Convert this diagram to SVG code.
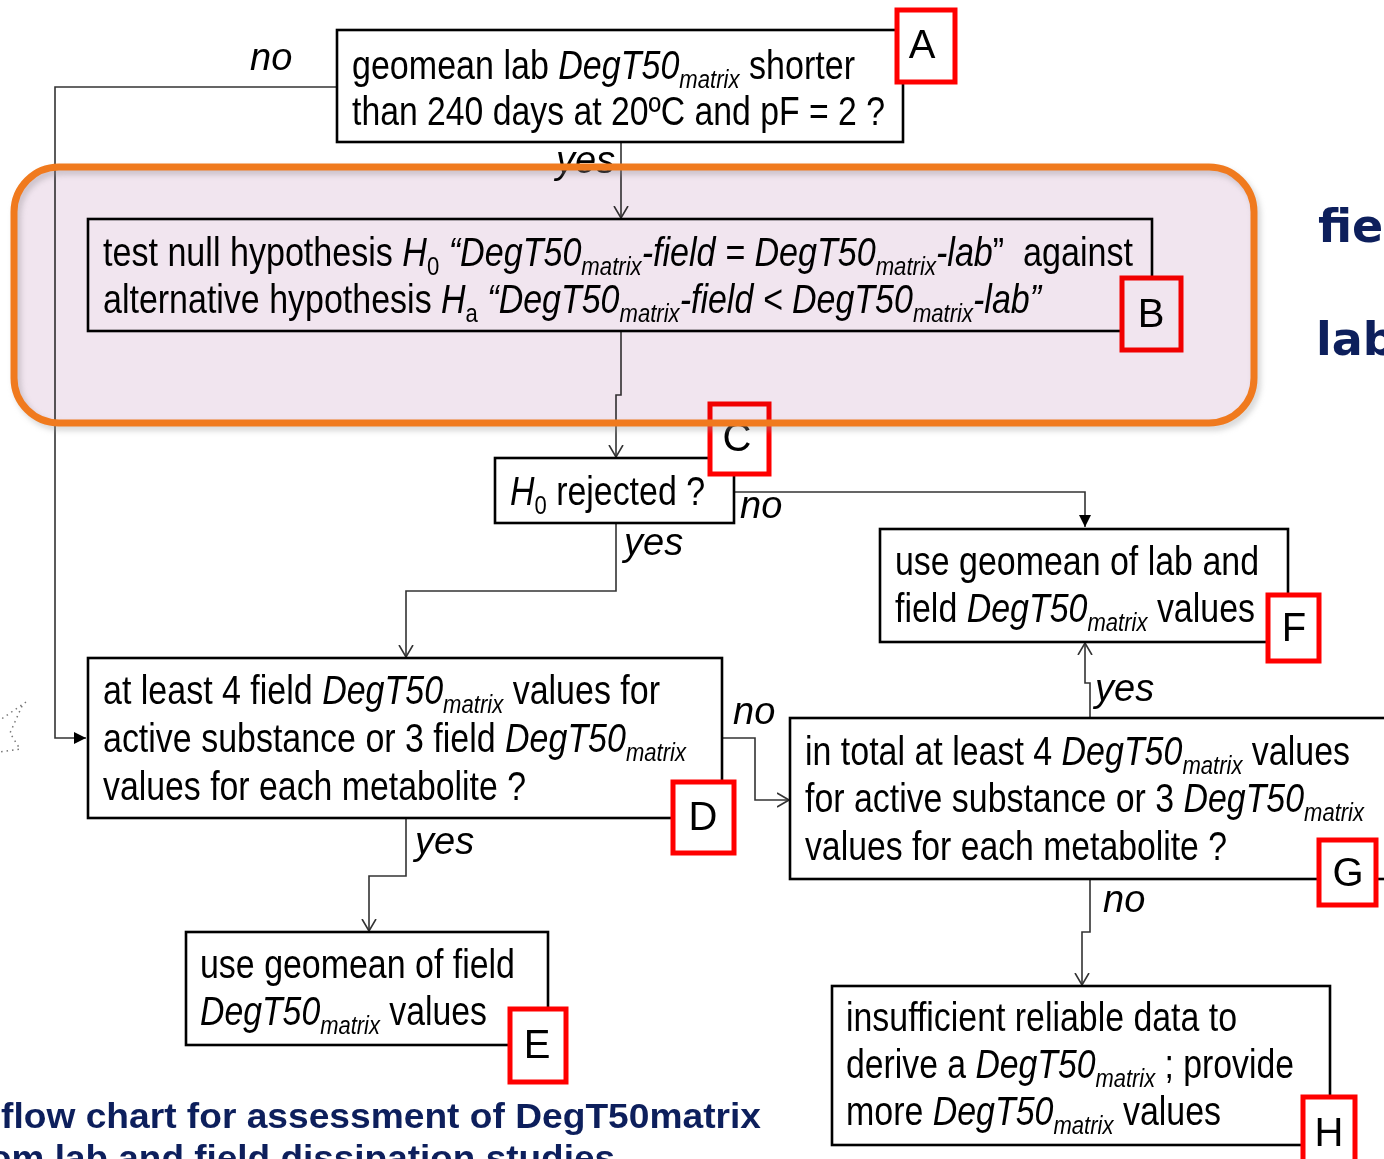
<svg xmlns="http://www.w3.org/2000/svg" width="1384" height="1159" viewBox="0 0 1384 1159">
<style>
.bg{fill:#fff}
.box{fill:#fff;stroke:#000;stroke-width:2.6}
.lbl{fill:#fff;stroke:#f00;stroke-width:5}
.t{font-family:'Liberation Sans Narrow','Liberation Sans',Arial,sans-serif;font-size:40px;fill:#000}
.i{font-style:italic}
.s{font-size:26px}
.lt{font-family:'Liberation Sans Narrow','Liberation Sans',Arial,sans-serif;font-size:40px;fill:#000;text-anchor:middle}
.cl{font-family:'Liberation Sans Narrow','Liberation Sans',Arial,sans-serif;font-size:38px;font-style:italic;fill:#000}
.conn{fill:none;stroke:#333;stroke-width:1.6}
.navy{font-family:'DejaVu Sans',Verdana,sans-serif;font-weight:bold;font-size:46px;fill:#0d1f5c}
.cap{font-family:'Liberation Sans',Arial,sans-serif;font-weight:bold;font-size:35px;fill:#0d1f5c}
</style>
<defs>
<marker id="open" viewBox="0 0 12 16" refX="12" refY="8" markerWidth="12" markerHeight="16" markerUnits="userSpaceOnUse" orient="auto">
<path d="M0,1 L12,8 L0,15" fill="none" stroke="#333" stroke-width="1.6"/>
</marker>
<marker id="fill" viewBox="0 0 12 12" refX="12" refY="6" markerWidth="12" markerHeight="12" markerUnits="userSpaceOnUse" orient="auto">
<path d="M0,0 L12,6 L0,12 Z" fill="#000"/>
</marker>
<filter id="sh" x="-5%" y="-10%" width="110%" height="125%">
<feGaussianBlur stdDeviation="3"/>
</filter>
</defs>
<rect class="bg" x="0" y="0" width="1384" height="1159"/>

<g id="connectors">
<path class="conn" d="M337,87 H55 V738 H86" marker-end="url(#fill)"/>
<path class="conn" d="M621,142 V218" marker-end="url(#open)"/>
<path class="conn" d="M621,331 V395 H616 V457" marker-end="url(#open)"/>
<path class="conn" d="M734,492 H1085 V527" marker-end="url(#fill)"/>
<path class="conn" d="M616,523 V591 H406 V657" marker-end="url(#open)"/>
<path class="conn" d="M722,738 H755 V800 H789" marker-end="url(#open)"/>
<path class="conn" d="M406,818 V876 H369 V931" marker-end="url(#open)"/>
<path class="conn" d="M1090,718 V683 H1085 V643" marker-end="url(#open)"/>
<path class="conn" d="M1090,879 V932 H1082 V985" marker-end="url(#open)"/>
<text class="cl" x="250" y="70">no</text>
<text class="cl" x="556" y="173">yes</text>
<text class="cl" x="740" y="518">no</text>
<text class="cl" x="624" y="555">yes</text>
<text class="cl" x="733" y="724">no</text>
<text class="cl" x="415" y="854">yes</text>
<text class="cl" x="1095" y="701">yes</text>
<text class="cl" x="1103" y="912">no</text>
</g>

<g id="nodeA">
<rect class="box" x="337" y="30" width="566" height="112"/>
<text class="t" x="352" y="79" textLength="503" lengthAdjust="spacingAndGlyphs">geomean lab <tspan class="i">DegT50</tspan><tspan class="i s" dy="9">matrix</tspan><tspan dy="-9"> shorter</tspan></text>
<text class="t" x="352" y="125" textLength="533" lengthAdjust="spacingAndGlyphs">than 240 days at 20ºC and pF = 2 ?</text>
<rect class="lbl" x="897" y="10" width="58" height="72"/>
<text class="lt" x="922" y="58">A</text>
</g>

<g id="nodeB">
<rect class="box" x="88" y="219" width="1064" height="112" style="fill:none"/>
<text class="t" x="103" y="266" textLength="1030" lengthAdjust="spacingAndGlyphs">test null hypothesis <tspan class="i">H</tspan><tspan class="s" dy="9">0</tspan><tspan class="i" dy="-9"> “DegT50</tspan><tspan class="i s" dy="9">matrix</tspan><tspan class="i" dy="-9">-field = DegT50</tspan><tspan class="i s" dy="9">matrix</tspan><tspan class="i" dy="-9">-lab</tspan>”&#160; against</text>
<text class="t" x="103" y="313" textLength="938" lengthAdjust="spacingAndGlyphs">alternative hypothesis <tspan class="i">H</tspan><tspan class="s" dy="9">a</tspan><tspan class="i" dy="-9"> “DegT50</tspan><tspan class="i s" dy="9">matrix</tspan><tspan class="i" dy="-9">-field &lt; DegT50</tspan><tspan class="i s" dy="9">matrix</tspan><tspan class="i" dy="-9">-lab”</tspan></text>
<rect class="lbl" x="1122" y="278" width="59" height="72"/>
<text class="lt" x="1151" y="327">B</text>
</g>

<g id="nodeC">
<rect class="box" x="495" y="458" width="239" height="65"/>
<text class="t" x="510" y="505" textLength="195" lengthAdjust="spacingAndGlyphs"><tspan class="i">H</tspan><tspan class="s" dy="9">0</tspan><tspan dy="-9"> rejected ?</tspan></text>
<rect class="lbl" x="710" y="404" width="59" height="70"/>
<text class="lt" x="737" y="451">C</text>
</g>

<g id="nodeD">
<rect class="box" x="88" y="658" width="634" height="160"/>
<text class="t" x="103" y="704" textLength="557" lengthAdjust="spacingAndGlyphs">at least 4 field <tspan class="i">DegT50</tspan><tspan class="i s" dy="9">matrix</tspan><tspan dy="-9"> values for</tspan></text>
<text class="t" x="103" y="752" textLength="583" lengthAdjust="spacingAndGlyphs">active substance or 3 field <tspan class="i">DegT50</tspan><tspan class="i s" dy="9">matrix</tspan></text>
<text class="t" x="103" y="800" textLength="423" lengthAdjust="spacingAndGlyphs">values for each metabolite ?</text>
<rect class="lbl" x="673" y="782" width="61" height="71"/>
<text class="lt" x="703" y="830">D</text>
</g>

<g id="nodeE">
<rect class="box" x="186" y="932" width="362" height="113"/>
<text class="t" x="200" y="978" textLength="315" lengthAdjust="spacingAndGlyphs">use geomean of field</text>
<text class="t" x="200" y="1025" textLength="287" lengthAdjust="spacingAndGlyphs"><tspan class="i">DegT50</tspan><tspan class="i s" dy="9">matrix</tspan><tspan dy="-9"> values</tspan></text>
<rect class="lbl" x="510" y="1009" width="56" height="73"/>
<text class="lt" x="537" y="1058">E</text>
</g>

<g id="nodeF">
<rect class="box" x="880" y="529" width="408" height="113"/>
<text class="t" x="895" y="575" textLength="364" lengthAdjust="spacingAndGlyphs">use geomean of lab and</text>
<text class="t" x="895" y="622" textLength="360" lengthAdjust="spacingAndGlyphs">field <tspan class="i">DegT50</tspan><tspan class="i s" dy="9">matrix</tspan><tspan dy="-9"> values</tspan></text>
<rect class="lbl" x="1268" y="595" width="51" height="66"/>
<text class="lt" x="1294" y="641">F</text>
</g>

<g id="nodeG">
<rect class="box" x="790" y="718" width="620" height="161"/>
<text class="t" x="805" y="765" textLength="545" lengthAdjust="spacingAndGlyphs">in total at least 4 <tspan class="i">DegT50</tspan><tspan class="i s" dy="9">matrix</tspan><tspan dy="-9"> values</tspan></text>
<text class="t" x="805" y="812" textLength="559" lengthAdjust="spacingAndGlyphs">for active substance or 3 <tspan class="i">DegT50</tspan><tspan class="i s" dy="9">matrix</tspan></text>
<text class="t" x="805" y="860" textLength="422" lengthAdjust="spacingAndGlyphs">values for each metabolite ?</text>
<rect class="lbl" x="1319" y="840" width="57" height="65"/>
<text class="lt" x="1348" y="886">G</text>
</g>

<g id="nodeH">
<rect class="box" x="832" y="986" width="498" height="159"/>
<text class="t" x="846" y="1031" textLength="391" lengthAdjust="spacingAndGlyphs">insufficient reliable data to</text>
<text class="t" x="846" y="1078" textLength="448" lengthAdjust="spacingAndGlyphs">derive a <tspan class="i">DegT50</tspan><tspan class="i s" dy="9">matrix</tspan><tspan dy="-9"> ; provide</tspan></text>
<text class="t" x="846" y="1125" textLength="375" lengthAdjust="spacingAndGlyphs">more <tspan class="i">DegT50</tspan><tspan class="i s" dy="9">matrix</tspan><tspan dy="-9"> values</tspan></text>
<rect class="lbl" x="1303" y="1097" width="52" height="70"/>
<text class="lt" x="1329" y="1146">H</text>
</g>

<g id="highlight">
<rect x="17" y="171" width="1240" height="256" rx="45" fill="none" stroke="#999" stroke-width="6" opacity="0.5" filter="url(#sh)"/>
<rect x="14" y="167" width="1240" height="256" rx="45" fill="#F1E5EF" style="mix-blend-mode:multiply"/>
<rect x="14" y="167" width="1240" height="256" rx="45" fill="none" stroke="#F07A1E" stroke-width="7"/>
</g>

<g id="slide-text">
<text class="navy" x="1318" y="242">fie</text>
<text class="navy" x="1316" y="355">lab</text>
<text class="cap" x="1" y="1128" textLength="760" lengthAdjust="spacingAndGlyphs">flow chart for assessment of DegT50matrix</text>
<text class="cap" x="-11" y="1170" textLength="626" lengthAdjust="spacingAndGlyphs">om lab and field dissipation studies</text>
<path d="M26,702 L0,720 M22,706 L10,733 L20,749 L0,752" fill="none" stroke="#777" stroke-width="1.5" stroke-dasharray="1.5,4"/>
</g>
</svg>
